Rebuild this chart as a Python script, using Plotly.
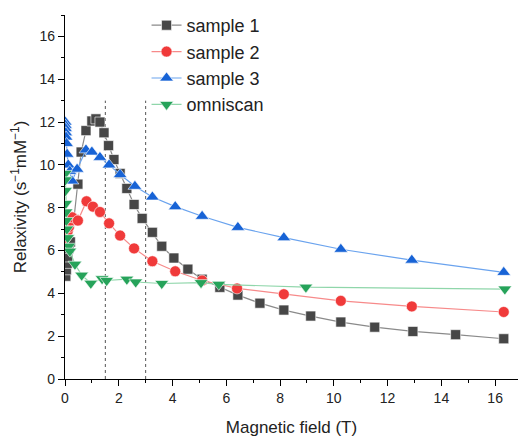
import plotly.graph_objects as go

# ---- data ----
s1_x = [0.03, 0.05, 0.08, 0.10, 0.15, 0.20, 0.33, 0.48, 0.60, 0.78, 1.00, 1.15, 1.30, 1.45, 1.62, 1.82,
        2.05, 2.30, 2.57, 2.87, 3.25, 3.60, 4.05, 4.57, 5.10, 5.76, 6.43, 7.25, 8.14, 9.14, 10.26,
        11.52, 12.94, 14.53, 16.32]
s1_y = [4.8, 5.1, 5.4, 5.7, 6.1, 6.4, 7.45, 9.1, 10.6, 11.6, 12.05, 12.15, 12.0, 11.5, 10.9, 10.25,
        9.6, 8.9, 8.15, 7.5, 6.85, 6.2, 5.65, 5.13, 4.66, 4.28, 3.92, 3.54, 3.22, 2.94, 2.66,
        2.42, 2.22, 2.07, 1.88]

s2_x = [0.02, 0.05, 0.10, 0.15, 0.20, 0.27, 0.48, 0.80, 1.04, 1.30, 1.64, 2.05, 2.57, 3.25, 4.10,
        5.10, 6.40, 8.14, 10.26, 12.90, 16.32]
s2_y = [6.6, 6.7, 6.9, 7.1, 7.4, 7.55, 7.4, 8.3, 8.05, 7.8, 7.27, 6.7, 6.1, 5.5, 5.03,
        4.6, 4.23, 3.96, 3.65, 3.39, 3.13]

s3_x = [0.01, 0.015, 0.02, 0.03, 0.04, 0.06, 0.08, 0.12, 0.18, 0.26, 0.45, 0.78, 1.00, 1.30, 1.64,
        2.05, 2.60, 3.25, 4.10, 5.10, 6.43, 8.14, 10.26, 12.90, 16.32]
s3_y = [12.0, 11.85, 11.7, 11.5, 11.3, 11.0, 10.5, 10.0, 9.7, 9.25, 9.8, 10.7, 10.6, 10.35, 10.0,
        9.55, 9.0, 8.5, 8.05, 7.6, 7.08, 6.6, 6.06, 5.55, 4.98]

om_x = [0.01, 0.015, 0.02, 0.03, 0.04, 0.05, 0.07, 0.10, 0.14, 0.18, 0.37, 0.62, 0.96, 1.38, 1.55,
        2.30, 2.63, 3.60, 5.06, 5.72, 8.96, 16.36]
om_y = [9.6, 9.3, 8.8, 8.2, 7.8, 7.4, 7.0, 6.6, 6.2, 5.97, 5.36, 4.85, 4.47, 4.68, 4.6,
        4.66, 4.53, 4.46, 4.5, 4.42, 4.29, 4.2]

series_names = ["sample 1", "sample 2", "sample 3", "omniscan"]
reference_fields = [1.5, 3.0]
reference_top = 13.0

x_ticks = [0, 2, 4, 6, 8, 10, 12, 14, 16]
y_ticks = [0, 2, 4, 6, 8, 10, 12, 14, 16]

FONT = "Liberation Sans, Arial, sans-serif"

fig = go.Figure()

# reference dotted lines
for xv in reference_fields:
    fig.add_trace(go.Scatter(x=[xv, xv], y=[0, reference_top], mode="lines",
                             line=dict(color="#555555", width=1, dash="dot"),
                             showlegend=False, hoverinfo="skip"))

styles = [
    (s1_x, s1_y, "#8a8a8a", "#474747", "square", 10),
    (s2_x, s2_y, "#f78a8a", "#f03a3a", "circle", 11),
    (s3_x, s3_y, "#6aa3ee", "#1763d6", "triangle-up", 12),
    (om_x, om_y, "#8fd6aa", "#26a35a", "triangle-down", 12),
]
for name, (xs, ys, lc, mc, sym, sz) in zip(series_names, styles):
    fig.add_trace(go.Scatter(
        x=xs, y=ys, name=name, mode="lines+markers",
        line=dict(color=lc, width=1.2),
        marker=dict(symbol=sym, size=sz, color=mc, line=dict(color="white", width=0.6)),
    ))

axis_common = dict(
    showline=True, linecolor="black", linewidth=1.2,
    ticks="outside", ticklen=6, tickwidth=1.2, tickcolor="black",
    showgrid=False, zeroline=False, mirror=False,
    tickfont=dict(family=FONT, size=14, color="#222222"),
    minor=dict(ticks="outside", ticklen=3, tickwidth=1, tickcolor="black", showgrid=False),
)

fig.update_xaxes(range=[0, 16.85], tickvals=x_ticks,
                 title=dict(text="Magnetic field (T)", font=dict(family=FONT, size=17, color="#222222"), standoff=17),
                 **axis_common)
fig.update_xaxes(minor=dict(dtick=1))
fig.update_yaxes(range=[0, 17.0], tickvals=y_ticks,
                 title=dict(text="Relaxivity (s<sup>\u22121</sup>mM<sup>\u22121</sup>)",
                            font=dict(family=FONT, size=17, color="#222222"), standoff=8),
                 **axis_common)
fig.update_yaxes(minor=dict(dtick=1))

fig.update_layout(
    width=520, height=437,
    margin=dict(l=65, r=2, t=15, b=58),
    paper_bgcolor="white", plot_bgcolor="white",
    font=dict(family=FONT, color="#222222"),
    legend=dict(x=0.18, y=1.022, xanchor="left", yanchor="top",
                font=dict(family=FONT, size=18, color="#222222"),
                bgcolor="rgba(0,0,0,0)", tracegroupgap=0, itemwidth=30),
    showlegend=True,
)

fig.write_html("out.html")
